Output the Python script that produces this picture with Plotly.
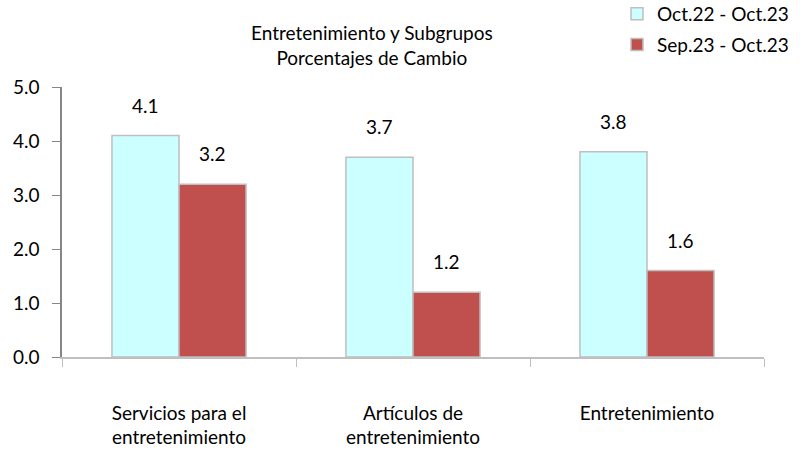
import plotly.graph_objects as go

categories = ["Servicios para el<br>entretenimiento", "Artículos de<br>entretenimiento", "Entretenimiento"]
series_names = ["Oct.22 - Oct.23", "Sep.23 - Oct.23"]
values_annual = [4.1, 3.7, 3.8]
values_monthly = [3.2, 1.2, 1.6]
y_ticks = [0.0, 1.0, 2.0, 3.0, 4.0, 5.0]

FONT = "Lato"
FS = 19
W, H = 805, 456
L, R, T, B = 62, 41, 87, 99
PH = H - T - B

fig = go.Figure()
fig.add_trace(go.Bar(
    x=categories, y=values_annual, name=series_names[0], legendgroup="a",
    marker=dict(color="#CCFFFF", line=dict(color="#BFBFBF", width=1.5)),
))
fig.add_trace(go.Bar(
    x=categories, y=values_monthly, name=series_names[1], legendgroup="b",
    marker=dict(color="#C0504D", line=dict(color="#BFBFBF", width=1.5)),
))

for vals, shift in ((values_annual, -33.5), (values_monthly, 33.5)):
    for c, v in zip(categories, vals):
        fig.add_annotation(x=c, y=v, text=f"{v:.1f}", showarrow=False,
                           xshift=shift, yanchor="bottom", yshift=17,
                           font=dict(family=FONT, size=FS, color="#000000"))

fig.add_annotation(xref="paper", yref="paper", x=(372 - L) / (W - L - R), y=1 + (T - 45) / PH,
                   xanchor="center", yanchor="middle",
                   text="Entretenimiento y Subgrupos<br>Porcentajes de Cambio",
                   showarrow=False, font=dict(family=FONT, size=FS, color="#000000"))

fig.update_layout(
    width=W, height=H,
    margin=dict(l=L, r=R, t=T, b=B, autoexpand=False),
    paper_bgcolor="white", plot_bgcolor="white",
    barmode="group", bargap=0.427, bargroupgap=0,
    font=dict(family=FONT, size=FS, color="#000000"),
    showlegend=True,
    legend=dict(x=(617 - L) / (W - L - R), y=1 + (T + 5) / PH, xanchor="left", yanchor="top",
                font=dict(family=FONT, size=FS), tracegroupgap=3,
                itemwidth=30, bgcolor="rgba(0,0,0,0)"),
)
fig.update_xaxes(
    type="category", tickson="boundaries", ticks="outside", ticklen=8,
    tickcolor="#BFBFBF", showline=True, linecolor="#BFBFBF", linewidth=1.5,
    showgrid=False, ticklabelstandoff=38,
    tickfont=dict(family=FONT, size=FS),
)
fig.update_yaxes(
    range=[0, 5], tickvals=y_ticks, ticktext=[f"{t:.1f}" for t in y_ticks],
    ticks="outside", ticklen=8, tickcolor="#868686",
    showline=True, linecolor="#868686", linewidth=1.5,
    showgrid=False, zeroline=False, ticklabelstandoff=9,
    tickfont=dict(family=FONT, size=FS),
)

fig.write_html("out.html", config={"displayModeBar": False},
               post_script="document.body.style.margin='0';")
